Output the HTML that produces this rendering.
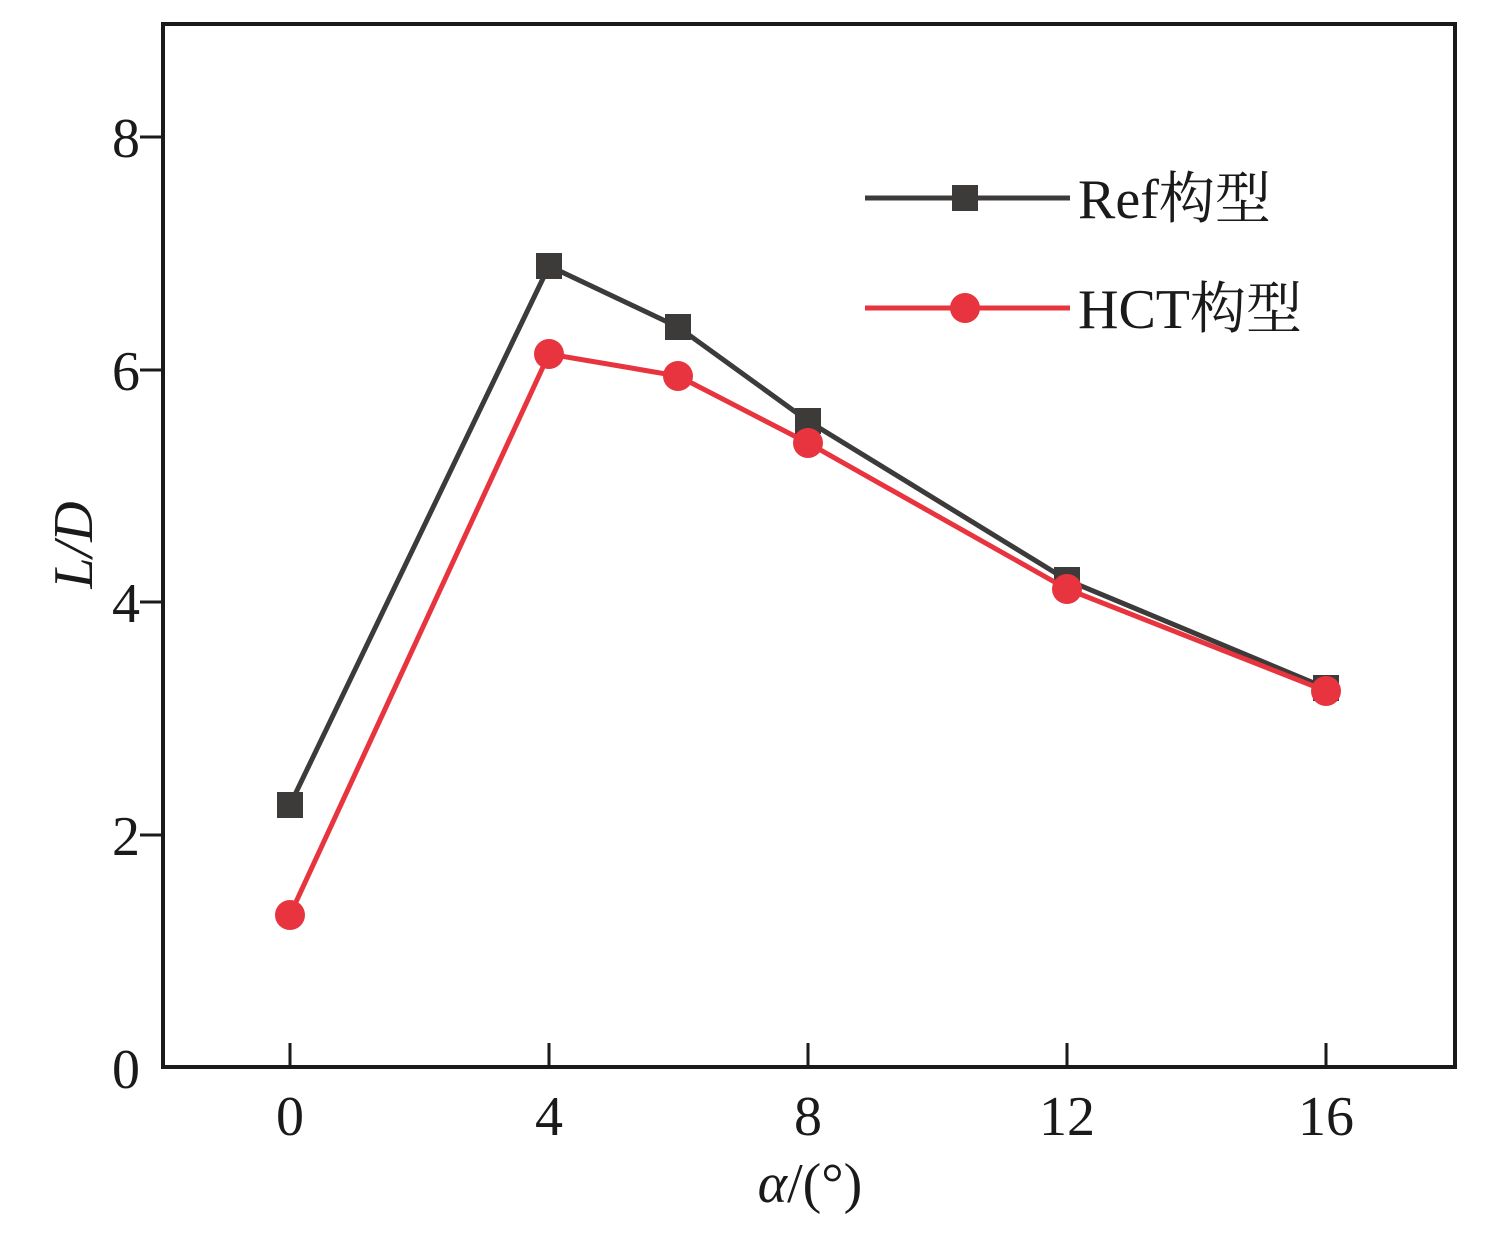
<!DOCTYPE html>
<html><head><meta charset="utf-8"><style>body{margin:0;background:#fff}</style></head><body>
<svg width="1486" height="1240" xmlns="http://www.w3.org/2000/svg" font-family="Liberation Serif, Noto Serif CJK SC, serif" fill="#1a1a1a">
<rect x="163" y="24" width="1292" height="1043" fill="none" stroke="#1a1a1a" stroke-width="4"/>
<g stroke="#1a1a1a" stroke-width="3">
<line x1="140" y1="137" x2="163" y2="137"/><line x1="140" y1="370" x2="163" y2="370"/><line x1="140" y1="602" x2="163" y2="602"/><line x1="140" y1="835" x2="163" y2="835"/>
<line x1="290" y1="1043" x2="290" y2="1067"/><line x1="549" y1="1043" x2="549" y2="1067"/><line x1="808" y1="1043" x2="808" y2="1067"/><line x1="1067" y1="1043" x2="1067" y2="1067"/><line x1="1326" y1="1043" x2="1326" y2="1067"/>
</g>
<g font-size="56" text-anchor="end">
<text x="140" y="157">8</text><text x="140" y="390">6</text><text x="140" y="622">4</text><text x="140" y="855">2</text><text x="140" y="1088">0</text>
</g>
<g font-size="56" text-anchor="middle">
<text x="290" y="1135">0</text><text x="549" y="1135">4</text><text x="808" y="1135">8</text><text x="1067" y="1135">12</text><text x="1326" y="1135">16</text>
<text x="810" y="1202"><tspan font-style="italic">α</tspan>/(°)</text>
</g>
<text font-size="56" text-anchor="middle" transform="translate(92,545) rotate(-90)" font-style="italic">L/D</text>
<polyline points="290,805 549,266 678,327 808,421 1067,580 1326,688" fill="none" stroke="#3d3a3a" stroke-width="5"/>
<g fill="#3d3a3a">
<rect x="277" y="792" width="26" height="26"/><rect x="536" y="253" width="26" height="26"/><rect x="665" y="314" width="26" height="26"/><rect x="795" y="408" width="26" height="26"/><rect x="1054" y="567" width="26" height="26"/><rect x="1313" y="675" width="26" height="26"/>
</g>
<polyline points="290,915 549,354 678,376 808,443 1067,589 1326,691" fill="none" stroke="#e8343f" stroke-width="5"/>
<g fill="#e8343f">
<circle cx="290" cy="915" r="15"/><circle cx="549" cy="354" r="15"/><circle cx="678" cy="376" r="15"/><circle cx="808" cy="443" r="15"/><circle cx="1067" cy="589" r="15"/><circle cx="1326" cy="691" r="15"/>
</g>
<line x1="865" y1="198" x2="1070" y2="198" stroke="#3d3a3a" stroke-width="5"/>
<rect x="952" y="185" width="26" height="26" fill="#3d3a3a"/>
<line x1="865" y1="308" x2="1070" y2="308" stroke="#e8343f" stroke-width="5"/>
<circle cx="965" cy="308" r="15" fill="#e8343f"/>
<text x="1078" y="218" font-size="56">Ref构型</text>
<text x="1078" y="328" font-size="56">HCT构型</text>
</svg>
</body></html>
